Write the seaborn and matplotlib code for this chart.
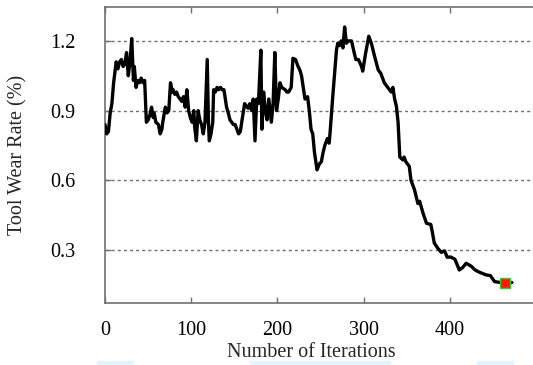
import matplotlib
matplotlib.use("Agg")
import matplotlib.pyplot as plt
import matplotlib.patches as mpatches
import seaborn as sns
import pandas as pd

iterations = [0, 2, 4, 6, 8, 10, 13, 15, 17, 19, 21, 23, 25, 27, 29, 31, 33, 34, 36, 38,
              40, 42, 44, 46, 48, 50, 52, 54, 56, 57, 59, 62, 64, 66, 67, 70, 72, 74, 76, 78,
              79, 81, 83, 85, 87, 89, 91, 93, 95, 97, 99, 101, 103, 104, 106, 108, 110, 112, 114, 116,
              118.6, 120, 121, 123, 125, 126, 128, 130, 132, 134, 136, 138, 141, 143, 145, 147, 149, 151, 153, 155,
              157, 159, 162, 164, 166, 168, 170, 172, 174, 176, 178, 180.8, 182, 184, 186, 188, 190, 193, 195, 197,
              199, 201, 203, 205, 207, 209, 211, 213, 216, 218, 221, 224, 226, 228, 230, 232, 235, 237, 239, 241,
              243, 246, 248.6, 251, 253, 255, 258, 260, 261, 264, 267, 268.5, 270, 272, 274, 276, 278, 280, 282, 286,
              289, 291, 294, 297.6, 299, 302, 306, 309, 313, 317, 320, 324, 328, 332, 334, 336, 338, 340, 341, 342,
              345.6, 347, 349, 353, 355, 359, 363, 365, 369, 373, 378, 380, 382, 386, 390, 394, 397, 401, 406, 411,
              415, 419, 425, 429, 434, 442, 447, 452, 459, 466, 472]
wear_rate = [0.84, 0.80, 0.81, 0.89, 0.93, 1.02, 1.11, 1.08, 1.11, 1.12, 1.09, 1.10, 1.15, 1.05, 1.11, 1.21, 1.03, 1.09, 1.00, 1.03,
             1.02, 1.04, 1.02, 1.03, 0.85, 0.86, 0.88, 0.915, 0.87, 0.89, 0.85, 0.84, 0.80, 0.82, 0.85, 0.915, 0.89, 0.90, 1.02, 0.98,
             0.99, 0.97, 0.98, 0.96, 0.95, 0.94, 0.96, 0.915, 0.99, 0.90, 0.87, 0.85, 0.90, 0.83, 0.77, 0.90, 0.86, 0.84, 0.80, 0.85,
             1.12, 0.85, 0.77, 0.80, 0.85, 0.99, 0.98, 1.00, 0.99, 1.00, 0.99, 0.99, 0.915, 0.89, 0.86, 0.85, 0.84, 0.84, 0.82, 0.80,
             0.81, 0.86, 0.93, 0.92, 0.91, 0.93, 0.90, 0.95, 0.77, 0.95, 0.93, 1.16, 0.82, 0.98, 0.90, 0.86, 0.95, 0.85, 0.93, 1.15,
             0.90, 0.95, 1.02, 1.00, 0.995, 0.99, 0.98, 0.98, 1.00, 1.125, 1.12, 1.09, 1.075, 1.05, 1.00, 0.95, 0.96, 0.90, 0.82, 0.80,
             0.72, 0.645, 0.67, 0.68, 0.72, 0.75, 0.78, 0.76, 0.80, 0.95, 1.09, 1.16, 1.19, 1.18, 1.20, 1.17, 1.26, 1.19, 1.20, 1.20,
             1.15, 1.12, 1.12, 1.09, 1.07, 1.14, 1.22, 1.19, 1.13, 1.075, 1.06, 1.02, 1.00, 0.98, 1.00, 0.95, 0.92, 0.85, 0.774, 0.70,
             0.688, 0.70, 0.68, 0.66, 0.60, 0.56, 0.50, 0.51, 0.458, 0.415, 0.41, 0.372, 0.33, 0.308, 0.29, 0.296, 0.269, 0.27, 0.26, 0.214,
             0.225, 0.243, 0.23, 0.215, 0.205, 0.193, 0.19, 0.164, 0.16, 0.16, 0.16]
best_iter = [463.5]
best_rate = [0.16]
x_ticks = [0, 100, 200, 300, 400]
y_ticks = [0.3, 0.6, 0.9, 1.2]
y_tick_labels = ["0.3", "0.6", "0.9", "1.2"]

sns.set_style("ticks")
plt.rcParams['font.family'] = ['Liberation Serif', 'DejaVu Serif']
plt.rcParams['mathtext.fontset'] = 'stix'

W, H = 533, 365
fig = plt.figure(figsize=(W / 100, H / 100), dpi=100)
ax = fig.add_axes([105 / W, 1 - 303 / H, 431 / W, 296 / H])

df = pd.DataFrame({"iter": iterations, "rate": wear_rate})
sns.lineplot(data=df, x="iter", y="rate", ax=ax, color="black", lw=2.4, sort=False, zorder=3)
sns.scatterplot(x=best_iter, y=best_rate, ax=ax, marker="s", s=50, color="#ff1a00",
                edgecolor="#33cc33", linewidth=1, zorder=4)

ax.set_xlim(0, 500)
ax.set_ylim(0.072, 1.346)
ax.set_xticks(x_ticks)
ax.set_yticks(y_ticks)
ax.set_yticklabels(y_tick_labels)
for y in y_ticks:
    ax.axhline(y, color="#707070", lw=1.0, ls=(0, (2.2, 2.2)), zorder=1)

for s in ax.spines.values():
    s.set_color("#707070")
    s.set_linewidth(1.2)
ax.spines['right'].set_visible(False)
ax.tick_params(axis='x', direction='in', top=True, length=4, width=1, color="#707070",
               labelsize=14.5, pad=13, labelcolor="black")
ax.tick_params(axis='y', direction='in', length=4, width=1, color="#707070",
               labelsize=14.5, pad=21, labelcolor="black")

ax.set_xlabel("Number of Iterations", fontsize=14.5)
ax.set_ylabel("Tool Wear Rate (%)", fontsize=14.5)
ax.xaxis.set_label_coords((311 - 105) / 431, -(343 - 303) / 296)
ax.yaxis.set_label_coords(-(105 - 27) / 431, 0.5)

# faint light-blue artifacts along the bottom edge
for x0, x1 in [(97, 133), (250, 390), (477, 513)]:
    fig.patches.append(mpatches.Rectangle((x0 / W, 0), (x1 - x0) / W, 4 / H,
                                          transform=fig.transFigure, color="#e3f5fc", zorder=0))

fig.savefig("out.png", dpi=100)
